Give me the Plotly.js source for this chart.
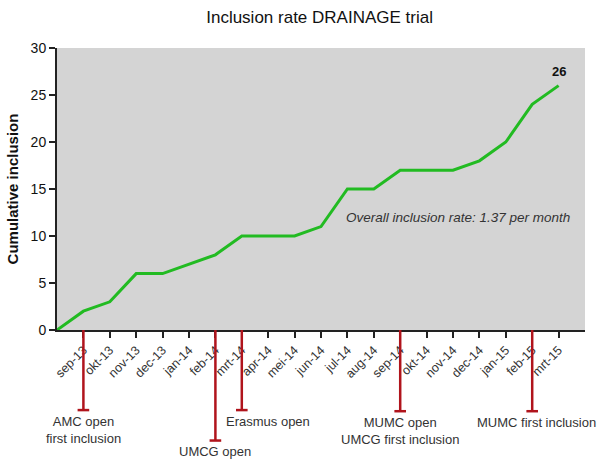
<!DOCTYPE html>
<html><head><meta charset="utf-8">
<script src="https://cdn.plot.ly/plotly-3.0.1.min.js"></script>
<style>body{margin:0;background:#fff}#c{width:603px;height:461px}</style>
</head><body><div id="c"></div>
<script>
var months = ["", "sep-13","okt-13","nov-13","dec-13","jan-14","feb-14","mrt-14","apr-14","mei-14","jun-14","jul-14","aug-14","sep-14","okt-14","nov-14","dec-14","jan-15","feb-15","mrt-15"];
var cumulative = [0,2,3,6,6,7,8,10,10,10,11,15,15,17,17,17,18,20,24,26];
var eventMonths = ["sep-13","feb-14","mrt-14","sep-14","feb-15"];
var eventLabels = ["AMC open<br>first inclusion","UMCG open","Erasmus open","MUMC open<br>UMCG first inclusion","MUMC first inclusion"];
var eventDepth = [-0.284, -0.392, -0.284, -0.288, -0.288];
var labelShift = [0, 0, 26, 0, 4];

var xs = months.map(function(m,i){return i;});
var font = "Liberation Sans, Arial, sans-serif";
var red = "#b0141c";
var shapes = [], annotations = [];
eventMonths.forEach(function(m,k){
  var xi = months.indexOf(m);
  var d = eventDepth[k];
  shapes.push({type:"line", xref:"x", yref:"paper", x0:xi, x1:xi, y0:0, y1:d, line:{color:red, width:2.5}});
  shapes.push({type:"line", xref:"x", yref:"paper", x0:xi-0.22, x1:xi+0.22, y0:d, y1:d, line:{color:red, width:2.5}});
  annotations.push({xref:"x", yref:"paper", x:xi, y:d-0.006, xshift:labelShift[k], yanchor:"top", showarrow:false, text:eventLabels[k], font:{family:font, size:13, color:"#333"}});
});
annotations.push({xref:"x", yref:"y", x:19, y:26, yshift:14, showarrow:false, text:"<b>26</b>", font:{family:font, size:13, color:"#111"}});
annotations.push({xref:"x", yref:"y", x:15.2, y:12, showarrow:false, text:"<i>Overall inclusion rate: 1.37 per month</i>", font:{family:font, size:13.5, color:"#333"}});

var data = [{x:xs, y:cumulative, type:"scatter", mode:"lines", line:{color:"#22bb22", width:3}, hoverinfo:"skip", cliponaxis:false}];
var layout = {
  width:603, height:461,
  margin:{l:57, r:18, t:48, b:131},
  paper_bgcolor:"#fff", plot_bgcolor:"#d4d4d4",
  showlegend:false,
  title:{text:"Inclusion rate DRAINAGE trial", font:{family:font, size:17, color:"#111"}, x:0.53, xanchor:"center", y:0.963, yanchor:"middle"},
  xaxis:{range:[0,20], tickmode:"array", tickvals:xs.slice(1), ticktext:months.slice(1), tickangle:-45,
         showgrid:false, zeroline:false, showline:true, linecolor:"#222", linewidth:2,
         ticks:"outside", ticklen:6, tickwidth:2, tickcolor:"#222",
         tickfont:{family:font, size:12.5, color:"#333"}},
  yaxis:{range:[0,30], tickvals:[0,5,10,15,20,25,30], showgrid:false, zeroline:false, showline:true, linecolor:"#222", linewidth:2,
         ticks:"outside", ticklen:6, tickwidth:2, tickcolor:"#222",
         tickfont:{family:font, size:14, color:"#111"},
         title:{text:"<b>Cumulative inclusion</b>", font:{family:font, size:15, color:"#111"}, standoff:8}},
  shapes:shapes, annotations:annotations
};
Plotly.newPlot("c", data, layout, {displayModeBar:false, staticPlot:true});
</script>
</body></html>
